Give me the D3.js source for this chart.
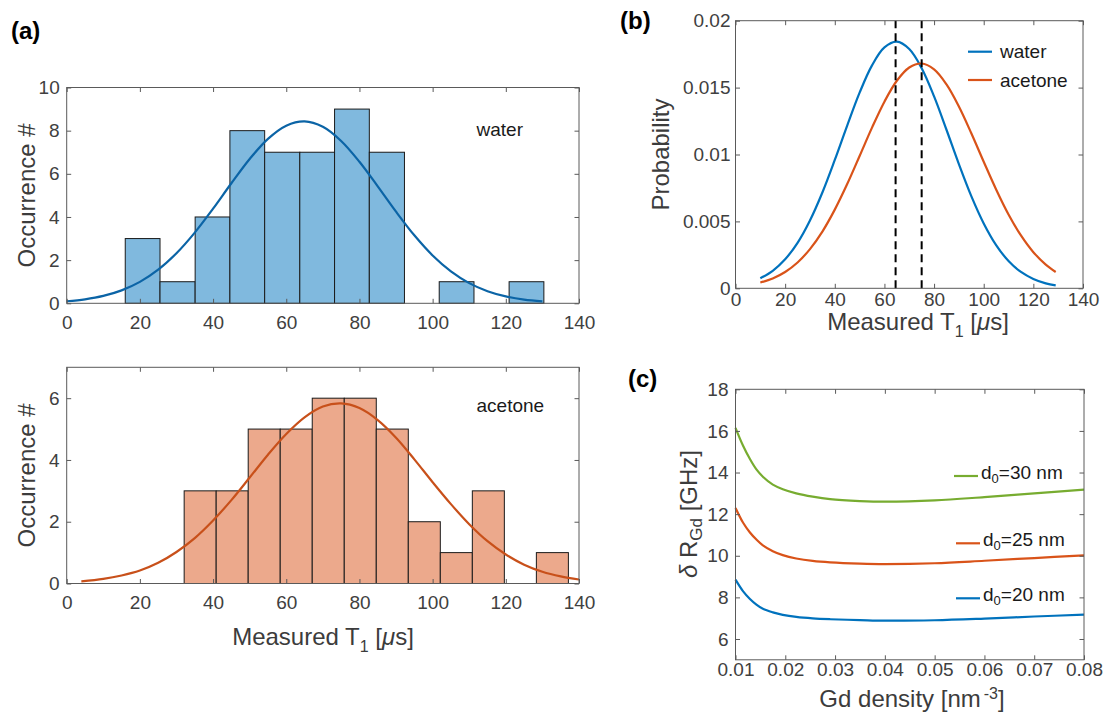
<!DOCTYPE html>
<html>
<head>
<meta charset="utf-8">
<script src="https://cdn.jsdelivr.net/npm/d3@7"></script>
<style>
  body { margin: 0; background: #fff; }
  svg { display: block; }
  text { font-family: "Liberation Sans", Arial, Helvetica, sans-serif; }
</style>
</head>
<body>
<svg id="fig" width="1107" height="712"></svg>
<script>
// ---- (a) measured T1 histograms: bin edges [µs] and counts ----
const waterEdges   = [16.0, 25.5, 35.1, 44.6, 54.1, 63.7, 73.2, 82.7, 92.3, 101.8, 111.3, 120.9, 130.4];
const waterCounts  = [3, 1, 4, 8, 7, 7, 9, 7, 0, 1, 0, 1];
const acetoneEdges  = [32.1, 40.85, 49.6, 58.35, 67.1, 75.85, 84.6, 93.35, 102.1, 110.85, 119.6, 128.35, 137.1];
const acetoneCounts = [3, 3, 5, 5, 6, 6, 5, 2, 1, 3, 0, 1];

// normal fits drawn over the histograms (expected counts per bin)
const fitT1Water    = [0, 5, 10, 15, 20, 25, 30, 35, 40, 45, 50, 55, 60, 65, 70, 75, 80, 85, 90, 95, 100, 105, 110, 115, 120, 125, 130];
const fitCountWater = [0.095, 0.185, 0.341, 0.598, 0.991, 1.557, 2.32, 3.276, 4.384, 5.562, 6.688, 7.622, 8.233, 8.43, 8.18, 7.524, 6.559, 5.42, 4.245, 3.151, 2.218, 1.479, 0.935, 0.56, 0.318, 0.171, 0.087];
const fitT1Acetone    = [4, 10, 15, 20, 25, 30, 35, 40, 45, 50, 55, 60, 65, 70, 75, 80, 85, 90, 95, 100, 105, 110, 115, 120, 125, 130, 135, 140];
const fitCountAcetone = [0.07, 0.15, 0.26, 0.42, 0.67, 1.02, 1.47, 2.04, 2.70, 3.43, 4.17, 4.84, 5.38, 5.73, 5.83, 5.68, 5.29, 4.72, 4.02, 3.28, 2.57, 1.92, 1.37, 0.94, 0.61, 0.38, 0.23, 0.13];

// ---- (b) probability densities ----
const pdfT1      = [10, 15, 20, 25, 30, 35, 40, 45, 50, 55, 60, 65, 70, 75, 80, 85, 90, 95, 100, 105, 110, 115, 120, 125, 129];
const pdfWater   = [0.00075, 0.00131, 0.00217, 0.0034, 0.00507, 0.00716, 0.00959, 0.01216, 0.01462, 0.01666, 0.018, 0.01843, 0.01788, 0.01645, 0.01434, 0.01185, 0.00928, 0.00689, 0.00485, 0.00323, 0.00204, 0.00122, 0.0007, 0.00037, 0.00022];
const pdfAcetone = [0.00043, 0.00074, 0.00122, 0.00193, 0.00293, 0.00424, 0.00588, 0.00779, 0.00989, 0.01201, 0.01395, 0.01551, 0.0165, 0.0168, 0.01636, 0.01524, 0.01359, 0.01159, 0.00946, 0.00739, 0.00552, 0.00395, 0.0027, 0.00177, 0.00122];
const meanT1     = [64.5, 75];
const liquids    = ["water", "acetone"];

// ---- (c) dR_Gd vs Gd density for three depths ----
const gdDensity = [0.01, 0.0115, 0.0129, 0.0142, 0.0155, 0.0175, 0.0195, 0.0222, 0.0255, 0.029, 0.035, 0.04, 0.05, 0.06, 0.07, 0.08];
const dR30 = [16.15, 15.3, 14.65, 14.15, 13.8, 13.42, 13.2, 13.0, 12.84, 12.72, 12.63, 12.6, 12.66, 12.82, 13.0, 13.18];
const dR25 = [12.3, 11.6, 11.12, 10.78, 10.5, 10.22, 10.03, 9.87, 9.75, 9.68, 9.62, 9.6, 9.64, 9.76, 9.89, 10.02];
const dR20 = [8.85, 8.3, 7.92, 7.65, 7.45, 7.28, 7.16, 7.06, 6.99, 6.95, 6.91, 6.88, 6.9, 6.98, 7.08, 7.17];
const depths = ["30", "25", "20"];

// ---- tick values ----
const t1Ticks = [0, 20, 40, 60, 80, 100, 120, 140];
const countTicksWater = [0, 2, 4, 6, 8, 10];
const countTicksAcetone = [0, 2, 4, 6];
const probTicks = [0, 0.005, 0.01, 0.015, 0.02];
const probTickLabels = ["0", "0.005", "0.01", "0.015", "0.02"];
const densityTicks = [0.01, 0.02, 0.03, 0.04, 0.05, 0.06, 0.07, 0.08];
const densityTickLabels = ["0.01", "0.02", "0.03", "0.04", "0.05", "0.06", "0.07", "0.08"];
const dRTicks = [6, 8, 10, 12, 14, 16, 18];

// ---- colours ----
const C = {
  blue: "#0072BD", orange: "#D95319", green: "#77AC30",
  blueFit: "#0b64a6", orangeFit: "#c8501a",
  blueFill: "rgb(128,185,222)", orangeFill: "rgb(236,169,140)",
  axis: "#5a5a5a", tick: "#404040", label: "#3c3c3c"
};

const svg = d3.select("#fig");

// Box with inward ticks on all four sides and labels on bottom/left
function frame(x, y, xt, yt, xfmt, yfmt, xPad, yPad) {
  const g = svg.append("g");
  const [x0, x1] = x.range();
  const [yb, yt0] = y.range();
  const tick = 4.5;
  const styleAxis = sel => {
    sel.select(".domain").remove();
    sel.selectAll(".tick line").attr("stroke", C.axis).attr("stroke-width", 1);
    sel.selectAll(".tick text").attr("fill", C.tick).style("font-size", "19px");
  };
  g.append("g").attr("transform", `translate(0,${yb})`)
    .call(d3.axisBottom(x).tickValues(xt).tickFormat(xfmt).tickSize(-tick).tickPadding(xPad))
    .call(styleAxis);
  g.append("g").attr("transform", `translate(0,${yt0})`)
    .call(d3.axisTop(x).tickValues(xt).tickFormat("").tickSize(-tick))
    .call(styleAxis);
  g.append("g").attr("transform", `translate(${x0},0)`)
    .call(d3.axisLeft(y).tickValues(yt).tickFormat(yfmt).tickSize(-tick).tickPadding(yPad))
    .call(styleAxis);
  g.append("g").attr("transform", `translate(${x1},0)`)
    .call(d3.axisRight(y).tickValues(yt).tickFormat("").tickSize(-tick))
    .call(styleAxis);
  g.append("rect")
    .attr("x", x0).attr("y", yt0).attr("width", x1 - x0).attr("height", yb - yt0)
    .attr("fill", "none").attr("stroke", C.axis).attr("stroke-width", 1);
  return g;
}

function yTitle(xBase, yMid, build) {
  const t = svg.append("text")
    .attr("transform", `translate(${xBase},${yMid}) rotate(-90)`)
    .attr("text-anchor", "middle").attr("fill", C.label).style("font-size", "24px");
  build(t);
}
function xTitle(xMid, yBase, build) {
  const t = svg.append("text")
    .attr("x", xMid).attr("y", yBase)
    .attr("text-anchor", "middle").attr("fill", C.label).style("font-size", "24px");
  build(t);
}
const measuredT1 = t => {
  t.append("tspan").text("Measured T");
  t.append("tspan").attr("dy", 7).style("font-size", "16px").text("1");
  t.append("tspan").attr("dy", -7).text(" [");
  t.append("tspan").style("font-style", "italic").text("\u03bc");
  t.append("tspan").text("s]");
};
const occurrence = t => t.text("Occurrence #");

function panelLabel(x, y, s) {
  svg.append("text").attr("x", x).attr("y", y).attr("fill", "#000")
    .style("font-size", "24px").style("font-weight", "bold").text(s);
}

// ================= (a) histograms =================
const xA = d3.scaleLinear().domain([0, 140]).range([66.7, 579]);

function histogram(edges, counts, yScale, fill, fitX, fitY, fitColor, name, nameY) {
  const bins = counts.map((c, i) => ({ x0: edges[i], x1: edges[i + 1], n: c })).filter(b => b.n > 0);
  const g = svg.append("g");
  g.selectAll("rect").data(bins).join("rect")
    .attr("x", d => xA(d.x0)).attr("width", d => xA(d.x1) - xA(d.x0))
    .attr("y", d => yScale(d.n)).attr("height", d => yScale(0) - yScale(d.n))
    .attr("fill", fill).attr("stroke", "#1a1a1a").attr("stroke-width", 1);
  const line = d3.line().x(d => xA(d[0])).y(d => yScale(d[1])).curve(d3.curveCatmullRom.alpha(0.5));
  g.append("path").datum(fitX.map((v, i) => [v, fitY[i]]))
    .attr("d", line).attr("fill", "none").attr("stroke", fitColor).attr("stroke-width", 2.2);
  svg.append("text").attr("x", xA(112)).attr("y", yScale(nameY))
    .attr("fill", "#1a1a1a").style("font-size", "19px").text(name);
}

const yWater = d3.scaleLinear().domain([0, 10]).range([303.3, 87.5]);
histogram(waterEdges, waterCounts, yWater, C.blueFill, fitT1Water, fitCountWater, C.blueFit, "water", 7.77);
frame(xA, yWater, t1Ticks, countTicksWater, d3.format("d"), d3.format("d"), 12.5, 7);
yTitle(35, 195.4, occurrence);

const yAcetone = d3.scaleLinear().domain([0, 7]).range([583.5, 367.3]);
histogram(acetoneEdges, acetoneCounts, yAcetone, C.orangeFill, fitT1Acetone, fitCountAcetone, C.orangeFit, "acetone", 5.55);
frame(xA, yAcetone, t1Ticks, countTicksAcetone, d3.format("d"), d3.format("d"), 12.5, 7);
yTitle(35, 475.4, occurrence);
xTitle(323, 645, measuredT1);
panelLabel(11, 39, "(a)");

// ================= (b) probability =================
const xB = d3.scaleLinear().domain([0, 140]).range([735.5, 1083]);
const yB = d3.scaleLinear().domain([0, 0.02]).range([288.3, 20.7]);
const lineB = d3.line().x(d => xB(d[0])).y(d => yB(d[1])).curve(d3.curveCatmullRom.alpha(0.5));
const pdfSeries = [pdfWater, pdfAcetone];
const pdfColors = [C.blue, C.orange];
pdfSeries.forEach((s, k) => {
  svg.append("path").datum(pdfT1.map((v, i) => [v, s[i]]))
    .attr("d", lineB).attr("fill", "none").attr("stroke", pdfColors[k]).attr("stroke-width", 2.2);
});
svg.append("g").selectAll("line").data(meanT1).join("line")
  .attr("x1", d => xB(d)).attr("x2", d => xB(d))
  .attr("y1", yB(0)).attr("y2", yB(0.02))
  .attr("stroke", "#000").attr("stroke-width", 2).attr("stroke-dasharray", "8,5");
frame(xB, yB, t1Ticks, probTicks, d3.format("d"), (d, i) => probTickLabels[i], 4.2, 5);
// legend
const legB = svg.append("g");
liquids.forEach((name, k) => {
  const yy = 51.7 + k * 28.3;
  legB.append("line").attr("x1", 968).attr("x2", 992).attr("y1", yy).attr("y2", yy)
    .attr("stroke", pdfColors[k]).attr("stroke-width", 2.2);
  legB.append("text").attr("x", 1000).attr("y", yy + 6.5)
    .attr("fill", "#1a1a1a").style("font-size", "19px").text(name);
});
yTitle(669, 154.5, t => t.text("Probability"));
xTitle(918, 330, measuredT1);
panelLabel(620, 29, "(b)");

// ================= (c) dR_Gd =================
const xC = d3.scaleLinear().domain([0.01, 0.08]).range([735.5, 1084]);
const yC = d3.scaleLinear().domain([5, 18]).range([659.8, 389.3]);
const lineC = d3.line().x(d => xC(d[0])).y(d => yC(d[1])).curve(d3.curveCatmullRom.alpha(0.5));
const dRSeries = [dR30, dR25, dR20];
const dRColors = [C.green, C.orange, C.blue];
dRSeries.forEach((s, k) => {
  svg.append("path").datum(gdDensity.map((v, i) => [v, s[i]]))
    .attr("d", lineC).attr("fill", "none").attr("stroke", dRColors[k]).attr("stroke-width", 2.2);
});
frame(xC, yC, densityTicks, dRTicks, (d, i) => densityTickLabels[i], d3.format("d"), 2.7, 7);
// in-axes labels for each depth
const legYs = [476, 543.3, 598.3];
const legX0 = [954, 956, 956];
depths.forEach((d0, k) => {
  const yy = legYs[k];
  svg.append("line").attr("x1", legX0[k]).attr("x2", legX0[k] + 24).attr("y1", yy).attr("y2", yy)
    .attr("stroke", dRColors[k]).attr("stroke-width", 2.2);
  const t = svg.append("text").attr("x", legX0[k] + 27).attr("y", yy + 3)
    .attr("fill", "#1a1a1a").style("font-size", "19px");
  t.append("tspan").text("d");
  t.append("tspan").attr("dy", 4).style("font-size", "13px").text("0");
  t.append("tspan").attr("dy", -4).text("=" + d0 + " nm");
});
yTitle(697, 514, t => {
  t.append("tspan").style("font-style", "italic").text("\u03b4");
  t.append("tspan").text(" R");
  t.append("tspan").attr("dy", 5).style("font-size", "17px").text("Gd");
  t.append("tspan").attr("dy", -5).text(" [GHz]");
});
xTitle(912, 707, t => {
  t.append("tspan").text("Gd density [nm");
  t.append("tspan").attr("dy", -8).attr("dx", 3).style("font-size", "16px").text("-3");
  t.append("tspan").attr("dy", 8).text("]");
});
panelLabel(628, 387, "(c)");
</script>
</body>
</html>
